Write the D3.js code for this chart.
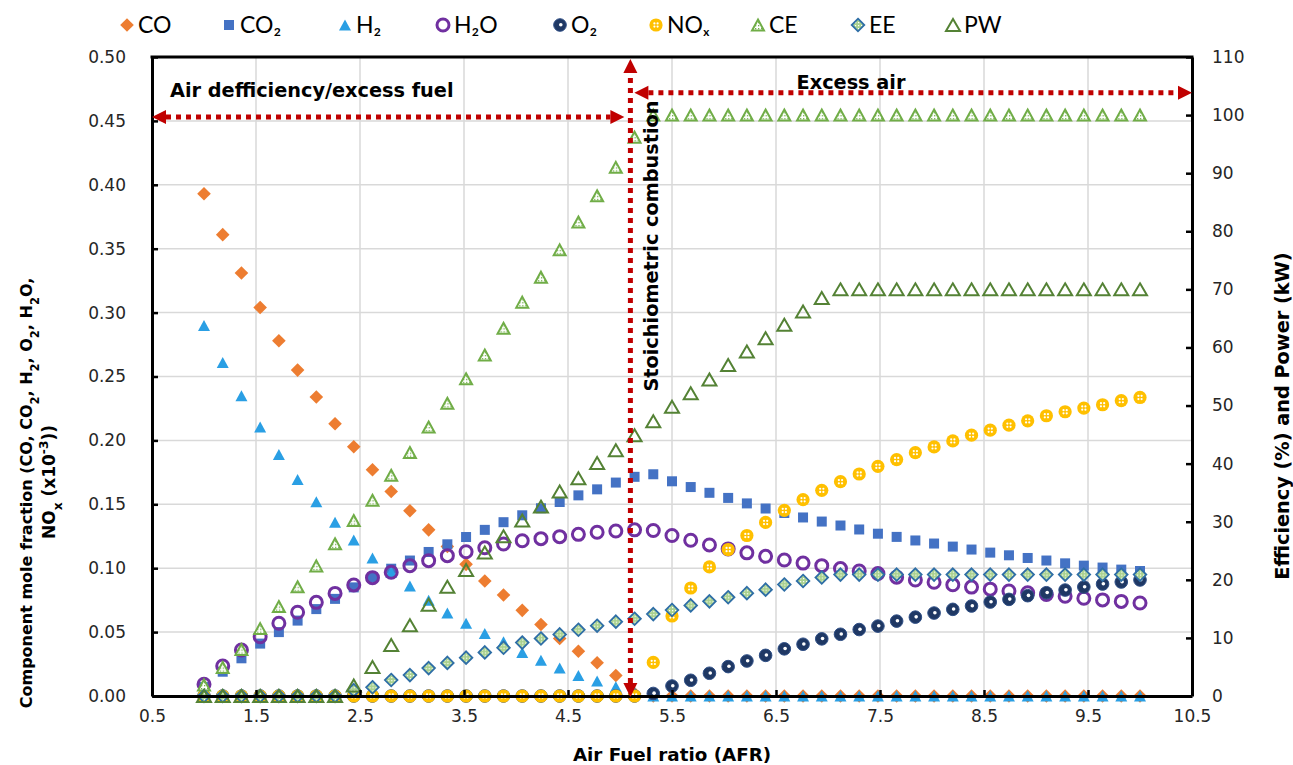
<!DOCTYPE html>
<html>
<head>
<meta charset="utf-8">
<script src="https://cdn.jsdelivr.net/npm/d3@7"></script>
<style>
  body { margin: 0; background: #fff; }
  svg { display: block; }
</style>
</head>
<body>
<svg id="chart" width="1293" height="765"></svg>
<script>
// ---- Data: air-fuel ratio sweep ----
const afr = [1.00,1.18,1.36,1.54,1.72,1.90,2.08,2.26,2.44,2.62,2.80,2.98,3.16,3.34,3.52,3.70,3.88,4.06,4.24,4.42,
             4.60,4.78,4.96,5.14,5.32,5.50,5.68,5.86,6.04,6.22,6.40,6.58,6.76,6.94,7.12,7.30,7.48,7.66,7.84,8.02,
             8.20,8.38,8.56,8.74,8.92,9.10,9.28,9.46,9.64,9.82,10.00];

// Mole fractions (left axis); NOx in units of 1e-3
const CO  = [0.393,0.361,0.331,0.304,0.278,0.255,0.234,0.213,0.195,0.177,0.160,0.145,0.130,0.117,0.103,0.090,0.079,0.067,0.056,0.045,
             0.035,0.026,0.016,0.002,0,0,0,0,0,0,0,0,0,0,0,0,0,0,0,0,0,0,0,0,0,0,0,0,0,0,0];
const CO2 = [0.007,0.019,0.0295,0.041,0.050,0.059,0.068,0.076,0.085,0.0926,0.0996,0.106,0.1127,0.1187,0.1244,0.130,0.136,0.1414,0.1469,0.1518,
             0.157,0.1617,0.167,0.1715,0.1735,0.168,0.1635,0.159,0.155,0.1507,0.1467,0.1432,0.1397,0.1365,0.1334,0.1303,0.127,0.1245,0.1217,0.1193,
             0.1169,0.1146,0.1122,0.1101,0.108,0.106,0.1038,0.102,0.1005,0.0989,0.0978];
const H2  = [0.290,0.261,0.235,0.2105,0.189,0.1695,0.152,0.136,0.122,0.108,0.097,0.086,0.075,0.065,0.057,0.049,0.0425,0.034,0.028,0.022,
             0.016,0.0117,0.0073,0.003,0,0,0,0,0,0,0,0,0,0,0,0,0,0,0,0,0,0,0,0,0,0,0,0,0,0,0];
const H2O = [0.0092,0.0235,0.036,0.0464,0.0569,0.0655,0.0733,0.0803,0.0869,0.0926,0.0968,0.102,0.1059,0.1098,0.1129,0.116,0.1189,0.1215,0.1231,0.1247,
             0.1265,0.1281,0.1291,0.1300,0.1295,0.1256,0.1219,0.1182,0.1151,0.112,0.1093,0.1064,0.104,0.102,0.0997,0.0978,0.0958,0.0930,0.0908,0.0890,
             0.0870,0.0852,0.0836,0.0822,0.0808,0.0795,0.0780,0.0765,0.0752,0.0740,0.0728];
const O2  = [0,0,0,0,0,0,0,0,0,0,0,0,0,0,0,0,0,0,0,0,0,0,0,0,0.002,
             0.0078,0.0123,0.0178,0.023,0.0274,0.0318,0.0369,0.0405,0.0447,0.0483,0.052,0.0547,0.0586,0.0617,0.0649,0.0678,0.0704,0.0735,0.0756,0.0785,
             0.0808,0.0829,0.0853,0.0876,0.0892,0.0908];
const NOx = [0,0,0,0,0,0,0,0,0,0,0,0,0,0,0,0,0,0,0,0,0,0,0,0,
             0.0263,0.0626,0.0845,0.101,0.1146,0.1256,0.1358,0.1452,0.1536,0.1609,0.1677,0.1737,0.1797,0.185,0.1904,0.1949,0.1996,0.2041,0.208,0.2119,0.2153,
             0.2193,0.2224,0.2253,0.2279,0.2311,0.2336];

// Efficiencies (%) and power (kW), right axis
const CE = [1.9,4.9,8.0,11.6,15.4,18.8,22.4,26.2,30.2,33.7,38.0,41.9,46.3,50.4,54.6,58.7,63.3,67.8,72.1,76.8,
            81.6,86.1,91.0,96.2,100,100,100,100,100,100,100,100,100,100,100,100,100,100,100,100,100,100,100,100,100,100,100,100,100,100,100];
const EE = [0,0,0,0,0,0,0,0,1.0,1.5,2.75,3.6,4.8,5.7,6.6,7.5,8.3,9.2,9.9,10.6,
            11.4,12.1,12.8,13.3,14.1,14.8,15.6,16.3,17.0,17.7,18.3,19.2,19.8,20.4,20.9,20.9,20.9,20.9,20.9,20.9,20.9,20.9,20.9,20.9,20.9,20.9,20.9,20.9,20.9,20.9,20.9];
const PW = [0,0,0,0,0,0,0,0,1.8,5.0,8.8,12.2,15.7,18.8,21.7,24.7,27.5,30.2,32.6,35.2,
            37.5,40.1,42.3,44.9,47.3,49.8,52.1,54.5,57.0,59.3,61.6,63.9,66.2,68.5,70,70,70,70,70,70,70,70,70,70,70,70,70,70,70,70,70];

// Axis ticks
const xTicks = [0.5,1.5,2.5,3.5,4.5,5.5,6.5,7.5,8.5,9.5,10.5];
const yLeftTicks = [0,0.05,0.10,0.15,0.20,0.25,0.30,0.35,0.40,0.45,0.50];
const yRightTicks = [0,10,20,30,40,50,60,70,80,90,100,110];

// Annotation anchors (data units)
const stoichAFR = 5.1;
const richArrowY = 0.453;
const leanArrowY = 0.472;

// ---- Layout ----
const svg = d3.select("#chart");
const X0 = 152, X1 = 1192, Y0 = 696, Y1 = 57;
const x = d3.scaleLinear().domain([0.5, 10.5]).range([X0, X1]);
const yL = d3.scaleLinear().domain([0, 0.5]).range([Y0, Y1]);
const yR = d3.scaleLinear().domain([0, 110]).range([Y0, Y1]);

const FONT = "'DejaVu Sans', Verdana, sans-serif";
const RED = "#C00000";

// patterns for textured markers
const defs = svg.append("defs");
const pCE = defs.append("pattern").attr("id", "ceFill").attr("width", 3).attr("height", 3)
  .attr("patternUnits", "userSpaceOnUse");
pCE.append("rect").attr("width", 3).attr("height", 3).attr("fill", "#fff");
pCE.append("rect").attr("width", 1.3).attr("height", 1.3).attr("fill", "#70AD47");
const pEE = defs.append("pattern").attr("id", "eeFill").attr("width", 3).attr("height", 3)
  .attr("patternUnits", "userSpaceOnUse");
pEE.append("rect").attr("width", 3).attr("height", 3).attr("fill", "#A9D18E");
pEE.append("rect").attr("width", 1.2).attr("height", 1.2).attr("fill", "#fff");

// ---- Gridlines ----
const grid = svg.append("g");
grid.selectAll("line.gx").data(xTicks.slice(1, -1)).join("line")
  .attr("x1", d => x(d)).attr("x2", d => x(d)).attr("y1", Y0).attr("y2", Y1)
  .attr("stroke", "#d9d9d9").attr("stroke-width", 1.5);
grid.selectAll("line.gy").data(yLeftTicks.slice(1, -1)).join("line")
  .attr("y1", d => yL(d)).attr("y2", d => yL(d)).attr("x1", X0).attr("x2", X1)
  .attr("stroke", "#d9d9d9").attr("stroke-width", 1.5);

// ---- Marker shapes ----
const diamond = s => `M0,${-s}L${s},0L0,${s}L${-s},0Z`;
const tri = (w, h) => `M0,${-h / 2}L${w / 2},${h / 2}L${-w / 2},${h / 2}Z`;

function drawMarker(g, kind) {
  switch (kind) {
    case "CO":
      g.append("path").attr("d", diamond(6.8)).attr("fill", "#ED7D31"); break;
    case "CO2":
      g.append("rect").attr("x", -5).attr("y", -5).attr("width", 10).attr("height", 10).attr("fill", "#4472C4"); break;
    case "H2":
      g.append("path").attr("d", tri(12, 11)).attr("fill", "#2A9FE4"); break;
    case "H2O":
      g.append("circle").attr("r", 6).attr("fill", "none").attr("stroke", "#7030A0").attr("stroke-width", 3); break;
    case "O2":
      g.append("circle").attr("r", 6.3).attr("fill", "#1F3864").attr("stroke", "#2F4F86").attr("stroke-width", 1);
      g.append("circle").attr("cx", 0.8).attr("cy", -0.3).attr("r", 1.8).attr("fill", "#fff"); break;
    case "NOx":
      g.append("circle").attr("r", 6.6).attr("fill", "#FFC000");
      [[-1.6, -1.6], [1.6, -1.6], [-1.6, 1.6], [1.6, 1.6]].forEach(([a, b]) =>
        g.append("circle").attr("cx", a).attr("cy", b).attr("r", 1.1).attr("fill", "#fff"));
      break;
    case "CE":
      g.append("path").attr("d", tri(12, 11)).attr("fill", "url(#ceFill)").attr("stroke", "#70AD47").attr("stroke-width", 2); break;
    case "EE":
      g.append("path").attr("d", diamond(6.3)).attr("fill", "url(#eeFill)").attr("stroke", "#2E6EA6").attr("stroke-width", 1.8); break;
    case "PW":
      g.append("path").attr("d", tri(14, 12)).attr("fill", "none").attr("stroke", "#548235").attr("stroke-width", 2); break;
  }
}

// ---- Series ----
const series = [
  { key: "CO",  values: CO,  y: yL },
  { key: "CO2", values: CO2, y: yL },
  { key: "H2",  values: H2,  y: yL },
  { key: "H2O", values: H2O, y: yL },
  { key: "O2",  values: O2,  y: yL },
  { key: "NOx", values: NOx, y: yL },
  { key: "CE",  values: CE,  y: yR },
  { key: "EE",  values: EE,  y: yR },
  { key: "PW",  values: PW,  y: yR }
];

const marks = svg.append("g");
series.forEach(s => {
  marks.append("g").attr("class", "series-" + s.key)
    .selectAll("g").data(s.values).join("g")
    .attr("transform", (d, i) => `translate(${x(afr[i])},${s.y(d)})`)
    .each(function () { drawMarker(d3.select(this), s.key); });
});

// ---- Axes ----
const axisStyle = g => {
  g.selectAll("path.domain").attr("stroke", "#000").attr("stroke-width", 3);
  g.selectAll(".tick line").attr("stroke", "#000").attr("stroke-width", 2.5);
  g.selectAll(".tick text").attr("font-family", FONT).attr("font-size", "17px").attr("fill", "#262626");
};
svg.append("g").attr("transform", `translate(0,${Y0})`)
  .call(d3.axisBottom(x).tickValues(xTicks).tickFormat(d3.format(".1f")).tickSize(-6).tickSizeOuter(0).tickPadding(14))
  .call(axisStyle);
svg.append("g").attr("transform", `translate(${X0},0)`)
  .call(d3.axisLeft(yL).tickValues(yLeftTicks).tickFormat(d3.format(".2f")).tickSize(-6).tickSizeOuter(0).tickPadding(26))
  .call(axisStyle);
svg.append("g").attr("transform", `translate(${X1},0)`)
  .call(d3.axisRight(yR).tickValues(yRightTicks).tickFormat(d3.format("d")).tickSize(-6).tickSizeOuter(0).tickPadding(20))
  .call(axisStyle);
// top frame
svg.append("line").attr("x1", X0 - 1.5).attr("x2", X1 + 1.5).attr("y1", Y1).attr("y2", Y1)
  .attr("stroke", "#000").attr("stroke-width", 3);

// ---- Axis titles ----
svg.append("text").attr("x", (X0 + X1) / 2).attr("y", 761).attr("text-anchor", "middle")
  .attr("font-family", FONT).attr("font-weight", "bold").attr("font-size", "18.3px").attr("fill", "#000")
  .text("Air Fuel ratio (AFR)");

const sub = (t, s) => { t.append("tspan").attr("baseline-shift", "sub").attr("font-size", "72%").text(s); };
const lt = svg.append("text").attr("transform", "translate(32,493) rotate(-90)").attr("text-anchor", "middle")
  .attr("font-family", FONT).attr("font-weight", "bold").attr("font-size", "16px").attr("fill", "#000");
lt.append("tspan").text("Component mole fraction (CO, CO");
sub(lt, "2"); lt.append("tspan").text(", H"); sub(lt, "2");
lt.append("tspan").text(", O"); sub(lt, "2");
lt.append("tspan").text(", H"); sub(lt, "2"); lt.append("tspan").text("O,");

const lt2 = svg.append("text").attr("transform", "translate(55,482) rotate(-90)").attr("text-anchor", "middle")
  .attr("font-family", FONT).attr("font-weight", "bold").attr("font-size", "17px").attr("fill", "#000");
lt2.append("tspan").text("NO"); sub(lt2, "x"); lt2.append("tspan").text(" (x10");
lt2.append("tspan").attr("baseline-shift", "super").attr("font-size", "72%").text("-3");
lt2.append("tspan").text("))");

svg.append("text").attr("transform", "translate(1289,416) rotate(-90)").attr("text-anchor", "middle")
  .attr("font-family", FONT).attr("font-weight", "bold").attr("font-size", "19.3px").attr("fill", "#000")
  .text("Efficiency (%) and Power (kW)");

// ---- Legend ----
const legendItems = [
  { key: "CO",  label: "CO",  x: 127 },
  { key: "CO2", label: "CO₂", x: 229 },
  { key: "H2",  label: "H₂",  x: 345 },
  { key: "H2O", label: "H₂O", x: 443 },
  { key: "O2",  label: "O₂",  x: 560 },
  { key: "NOx", label: "NOₓ", x: 656 },
  { key: "CE",  label: "CE",  x: 758 },
  { key: "EE",  label: "EE",  x: 858 },
  { key: "PW",  label: "PW",  x: 953 }
];
const leg = svg.append("g");
legendItems.forEach(it => {
  const g = leg.append("g").attr("transform", `translate(${it.x},25)`);
  drawMarker(g, it.key);
  leg.append("text").attr("x", it.x + 11).attr("y", 33)
    .attr("font-family", "Lato, 'Open Sans', sans-serif").attr("font-size", "23px").attr("fill", "#000")
    .text(it.label);
});

// ---- Combustion-regime annotations ----
const ann = svg.append("g");
function dottedArrow(x1, y1, x2, y2) {
  const len = Math.hypot(x2 - x1, y2 - y1), ux = (x2 - x1) / len, uy = (y2 - y1) / len;
  const head = 14, half = 7;
  ann.append("line")
    .attr("x1", x1 + ux * head).attr("y1", y1 + uy * head)
    .attr("x2", x2 - ux * head).attr("y2", y2 - uy * head)
    .attr("stroke", RED).attr("stroke-width", 5).attr("stroke-dasharray", "5,5");
  const tip = (tx, ty, dx, dy) => {
    const bx = tx - dx * head, by = ty - dy * head;
    ann.append("path")
      .attr("d", `M${tx},${ty}L${bx - dy * half},${by + dx * half}L${bx + dy * half},${by - dx * half}Z`)
      .attr("fill", RED);
  };
  tip(x2, y2, ux, uy);
  tip(x1, y1, -ux, -uy);
}
dottedArrow(x(0.5), yL(richArrowY), x(stoichAFR) - 6, yL(richArrowY));
dottedArrow(x(stoichAFR) + 4, yL(leanArrowY), x(10.5), yL(leanArrowY));
dottedArrow(x(stoichAFR), Y0 + 1, x(stoichAFR), Y1 + 2);

const annFont = t => t.attr("font-family", FONT).attr("font-weight", "bold").attr("font-size", "19.3px").attr("fill", "#000");
ann.append("text").attr("x", 170).attr("y", 97).call(annFont)
  .text("Air defficiency/excess fuel");
ann.append("text").attr("x", 851).attr("y", 89).attr("text-anchor", "middle").call(annFont)
  .text("Excess air");
ann.append("text").attr("transform", "translate(658,246) rotate(-90)").attr("text-anchor", "middle").call(annFont)
  .text("Stoichiometric combustion");
</script>
</body>
</html>
